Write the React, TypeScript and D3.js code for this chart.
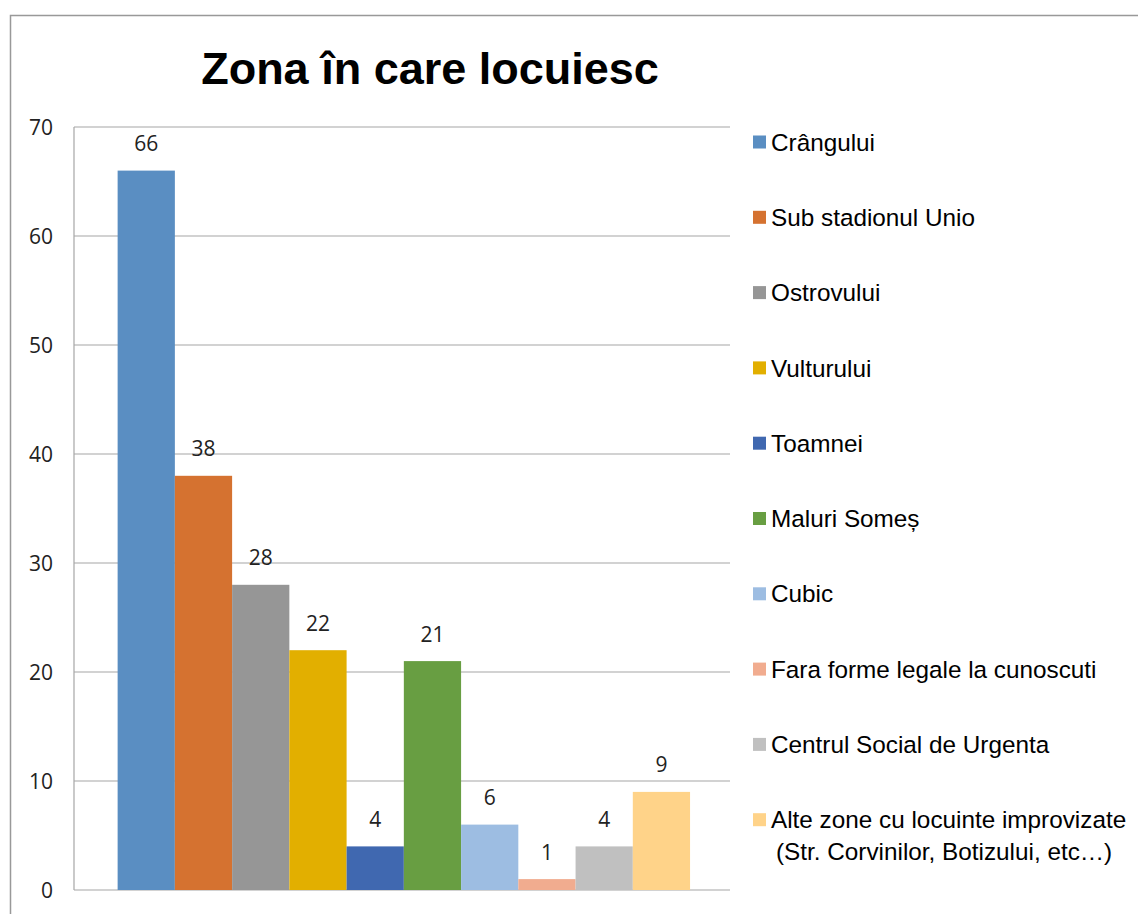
import React from "react";
import * as d3 from "d3";

const categories: string[] = [
  "Crângului",
  "Sub stadionul Unio",
  "Ostrovului",
  "Vulturului",
  "Toamnei",
  "Maluri Someș",
  "Cubic",
  "Fara forme legale la cunoscuti",
  "Centrul Social de Urgenta",
  "Alte zone cu locuinte improvizate\n(Str. Corvinilor, Botizului, etc…)",
];
const values: number[] = [66, 38, 28, 22, 4, 21, 6, 1, 4, 9];
const colors: string[] = [
  "#5A8EC2",
  "#D57230",
  "#969696",
  "#E2AF00",
  "#4068B0",
  "#689E42",
  "#9DBDE2",
  "#F1AC8F",
  "#C0C0C0",
  "#FFD389",
];
const yTicks: number[] = [0, 10, 20, 30, 40, 50, 60, 70];
const title = "Zona în care locuiesc";

const W = 1138;
const H = 914;
const plot = { left: 74, right: 730, top: 127, bottom: 890 };

export default function App() {
  const y = d3.scaleLinear().domain([0, 70]).range([plot.bottom, plot.top]);
  const x = d3
    .scaleBand<string>()
    .domain(categories)
    .range([plot.left, plot.right])
    .paddingInner(0)
    .paddingOuter(0.73)
    .align(0.522);

  const legendTop = 142;
  const legendStep = 75.3;

  return (
    <svg
      width={W}
      height={H}
      style={{ position: "absolute", left: 0, top: 0, background: "#fff" }}
    >
      <rect x={0} y={0} width={W} height={H} fill="#fff" />
      <rect
        x={10.5}
        y={15.5}
        width={W + 20}
        height={H + 20}
        fill="none"
        stroke="#999"
        strokeWidth={1.5}
      />
      <text
        x={430}
        y={84}
        textAnchor="middle"
        fontFamily="'Liberation Sans', Arial, sans-serif"
        fontWeight="bold"
        fontSize={45}
        fill="#000"
      >
        {title}
      </text>

      {/* gridlines */}
      {yTicks.map((t) => (
        <line
          key={"g" + t}
          x1={plot.left}
          x2={plot.right}
          y1={y(t)}
          y2={y(t)}
          stroke="#A6A6A6"
          strokeWidth={1.2}
        />
      ))}
      <line
        x1={plot.left}
        x2={plot.left}
        y1={plot.top}
        y2={plot.bottom}
        stroke="#A6A6A6"
        strokeWidth={1.2}
      />
      {yTicks.map((t) => (
        <text
          key={"t" + t}
          x={53}
          y={y(t)}
          textAnchor="end"
          dominantBaseline="central"
          fontFamily="'Open Sans', sans-serif"
          fontSize={21}
          fill="#222"
        >
          {t}
        </text>
      ))}

      {/* bars */}
      {categories.map((c, i) => (
        <g key={"b" + i}>
          <rect
            x={x(c)!}
            y={y(values[i])}
            width={x.bandwidth()}
            height={y(0) - y(values[i])}
            fill={colors[i]}
          />
          <text
            x={x(c)! + x.bandwidth() / 2}
            y={y(values[i]) - 19.5}
            textAnchor="middle"
            fontFamily="'Open Sans', sans-serif"
            fontSize={21}
            fill="#222"
          >
            {values[i]}
          </text>
        </g>
      ))}

      {/* legend */}
      {categories.map((c, i) => {
        const cy = legendTop + i * legendStep;
        const lines = c.split("\n");
        return (
          <g key={"l" + i}>
            <rect x={753} y={cy - 6.5} width={13} height={13} fill={colors[i]} />
            {lines.map((ln, j) => (
              <text
                key={j}
                x={j === 0 ? 771 : 776}
                y={cy + 8.6 + j * 32}
                fontFamily="'Liberation Sans', Arial, sans-serif"
                fontSize={24.3}
                fill="#000"
              >
                {ln}
              </text>
            ))}
          </g>
        );
      })}
    </svg>
  );
}
